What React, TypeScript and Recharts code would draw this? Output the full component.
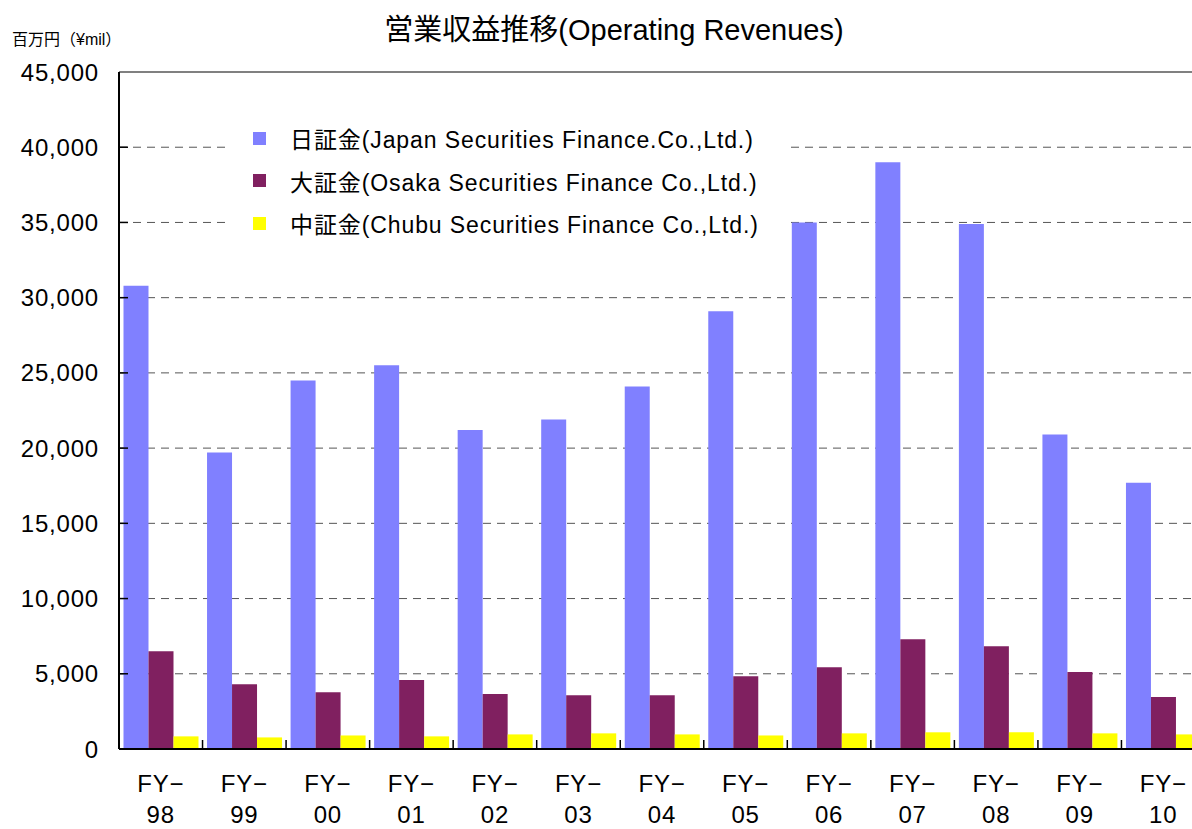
import { BarChart, Bar, XAxis, YAxis, CartesianGrid, ReferenceLine } from "recharts";

const categories = ["FY−98", "FY−99", "FY−00", "FY−01", "FY−02", "FY−03", "FY−04", "FY−05", "FY−06", "FY−07", "FY−08", "FY−09", "FY−10"];
const jsf = [30800, 19700, 24500, 25500, 21200, 21900, 24100, 29100, 35000, 39000, 34900, 20900, 17700];
const osf = [6500, 4300, 3780, 4580, 3650, 3580, 3580, 4840, 5440, 7300, 6830, 5110, 3450];
const csf = [840, 770, 900, 840, 970, 1040, 970, 900, 1040, 1110, 1110, 1040, 970];
const seriesNames = [
  "日証金(Japan Securities Finance.Co.,Ltd.)",
  "大証金(Osaka Securities Finance Co.,Ltd.)",
  "中証金(Chubu Securities Finance Co.,Ltd.)",
];
const seriesColors = ["#8080FF", "#802060", "#FFFF00"];
const yTicks = [0, 5000, 10000, 15000, 20000, 25000, 30000, 35000, 40000, 45000];

const data = categories.map((c, i) => ({ cat: c, jsf: jsf[i], osf: osf[i], csf: csf[i] }));

const FONT = '"Liberation Sans", "Noto Sans CJK JP", sans-serif';

const PLOT_LEFT = 119;
const PLOT_RIGHT = 1205;
const BAND = (PLOT_RIGHT - PLOT_LEFT) / categories.length;

function YTick(props: any) {
  const { x, y, payload } = props;
  return (
    <g>
      {payload.value !== 0 && payload.value !== 45000 && (
        <line x1={x} x2={x + 9} y1={y} y2={y} stroke="#000" strokeWidth={1.5} />
      )}
      <text x={x - 20} y={y} textAnchor="end" dominantBaseline="central" fontFamily={FONT} fontSize={24} letterSpacing={0.8} fill="#000">
        {payload.value.toLocaleString("en-US")}
      </text>
    </g>
  );
}

function XTick(props: any) {
  const { x, y, payload } = props;
  const [a, b] = String(payload.value).split("−");
  return (
    <g>
      <line x1={x + BAND / 2} x2={x + BAND / 2} y1={y} y2={y - 9} stroke="#000" strokeWidth={1.5} />
      <text x={x} y={y + 43} textAnchor="middle" fontFamily={FONT} fontSize={24} letterSpacing={0.8} fill="#000">
        {a + "−"}
      </text>
      <text x={x} y={y + 74} textAnchor="middle" fontFamily={FONT} fontSize={24} letterSpacing={0.8} fill="#000">
        {b}
      </text>
    </g>
  );
}

export default function App() {
  return (
    <div style={{ position: "absolute", left: 0, top: 0, width: 1192, height: 829, overflow: "hidden", background: "#fff" }}>
      <div style={{ position: "absolute", left: 0, top: 0 }}>
        <BarChart
          width={1210}
          height={829}
          data={data}
          margin={{ top: 72, right: 5, bottom: 0, left: 0 }}
          barCategoryGap={4.5}
          barGap={0}
        >
          <CartesianGrid vertical={false} stroke="#555" strokeDasharray="8 6" />
          <XAxis
            dataKey="cat"
            height={80}
            interval={0}
            tickSize={0}
            tickMargin={0}
            tickLine={false}
            axisLine={{ stroke: "#000", strokeWidth: 2 }}
            tick={<XTick />}
          />
          <YAxis
            width={PLOT_LEFT}
            domain={[0, 45000]}
            ticks={yTicks}
            interval={0}
            tickSize={0}
            tickMargin={0}
            tickLine={false}
            axisLine={{ stroke: "#000", strokeWidth: 2 }}
            tick={<YTick />}
          />
          <ReferenceLine y={45000} stroke="#808080" strokeWidth={2} />
          <Bar dataKey="jsf" name={seriesNames[0]} fill={seriesColors[0]} isAnimationActive={false} />
          <Bar dataKey="osf" name={seriesNames[1]} fill={seriesColors[1]} isAnimationActive={false} />
          <Bar dataKey="csf" name={seriesNames[2]} fill={seriesColors[2]} isAnimationActive={false} />
        </BarChart>
      </div>
      <div style={{ position: "absolute", left: 0, top: 6, width: 1228, textAlign: "center", fontFamily: FONT, fontSize: 29, color: "#000" }}>
        営業収益推移(Operating Revenues)
      </div>
      <div style={{ position: "absolute", left: 12, top: 26, fontFamily: FONT, fontSize: 16, color: "#000" }}>
        百万円（¥mil）
      </div>
      <div
        style={{
          position: "absolute",
          left: 226,
          top: 112,
          width: 563,
          height: 135,
          paddingLeft: 27,
          paddingTop: 5,
          boxSizing: "border-box",
          background: "#fff",
          fontFamily: FONT,
          fontSize: 23,
          letterSpacing: 0.9,
          color: "#000",
          whiteSpace: "nowrap",
        }}
      >
        {seriesNames.map((n, i) => (
          <div key={n} style={{ display: "flex", alignItems: "center", height: 42.5 }}>
            <span style={{ width: 13, height: 13, background: seriesColors[i], display: "inline-block", marginRight: 24 }} />
            <span>{n}</span>
          </div>
        ))}
      </div>
    </div>
  );
}
